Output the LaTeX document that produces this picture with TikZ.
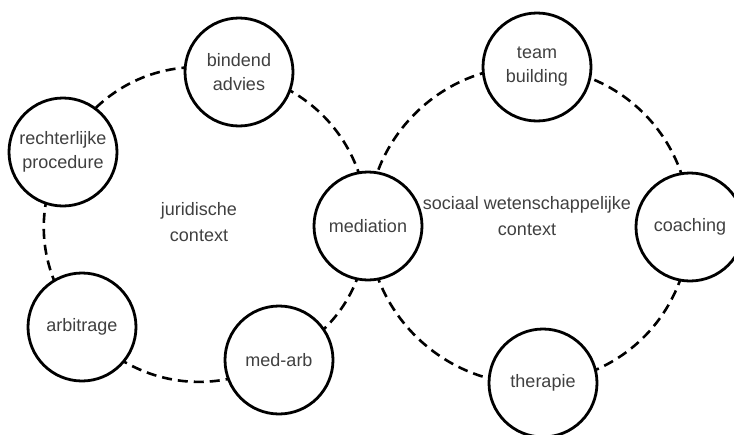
\documentclass[tikz,border=0pt]{standalone}
\usepackage{fontspec}
\setmainfont{Liberation Sans}
\usetikzlibrary{backgrounds}
\begin{document}
\begin{tikzpicture}[x=1pt,y=1pt,
  bub/.style={circle,draw=black,line width=2.8pt,minimum size=108pt,inner sep=0pt,
    align=center,font=\fontsize{18}{24}\selectfont,text=black!75,fill=white},
  lab/.style={align=center,font=\fontsize{18}{26}\selectfont,text=black!75},
  link/.style={line width=2.6pt,dash pattern=on 10pt off 6pt}]
\useasboundingbox (0,0) rectangle (734,-434);
\clip (0,0) rectangle (734,-434);
\node[bub] (bind) at (239,-72) {bindend\\advies};
\node[bub] (rech) at (63,-152) {rechterlijke\\procedure};
\node[bub] (arb) at (82,-327) {arbitrage};
\node[bub] (medarb) at (279,-360) {med-arb};
\node[bub] (med) at (368,-226) {mediation};
\node[bub] (team) at (537,-67) {team\\building};
\node[bub] (coach) at (690,-227) {coaching};
\node[bub] (ther) at (543,-383) {therapie};
\node[lab] (jur) at (199,-222) {juridische\\context};
\node[lab] (soc) at (527,-216) {sociaal wetenschappelijke\\context};
\begin{scope}[on background layer]
\fill[white] (0,0) rectangle (734,-434);
\draw[link] (bind.center) to[bend right=38] (rech.center);
\draw[link] (rech.center) to[bend right=33] (arb.center);
\draw[link] (arb.center) to[bend right=39] (medarb.center);
\draw[link] (medarb.center) to[bend right=30] (med.center);
\draw[link] (med.center) to[bend right=39] (bind.center);
\draw[link] (team.center) to[bend right=47] (med.center);
\draw[link] (med.center) to[bend right=47] (ther.center);
\draw[link] (ther.center) to[bend right=42] (coach.center);
\draw[link] (coach.center) to[bend right=44] (team.center);
\end{scope}
\end{tikzpicture}
\end{document}
